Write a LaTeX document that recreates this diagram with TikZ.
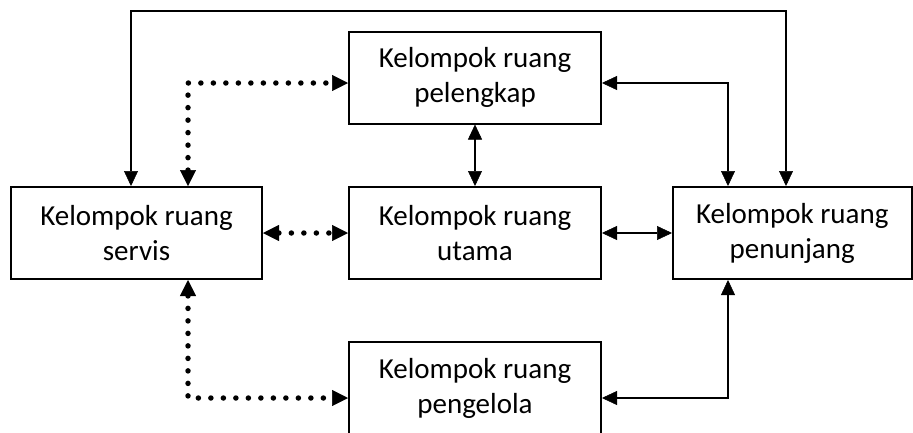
\documentclass[tikz,border=0pt]{standalone}
\usepackage{fontspec}
\setmainfont{Carlito}
\usetikzlibrary{arrows.meta}

\tikzset{
  roombox/.style={draw, line width=2pt, minimum height=92pt, inner sep=0pt,
    align=center, font=\fontsize{29}{35}\selectfont},
  solidlink/.style={line width=2pt, {Triangle[length=15pt,width=14pt,line width=0.5pt]}-{Triangle[length=15pt,width=14pt,line width=0.5pt]}},
  dotlink/.style={line width=5.5pt, line cap=round, dash pattern=on 0pt off 12.5pt,
    {Triangle[length=16pt,width=16pt,line width=0.5pt]}-{Triangle[length=16pt,width=16pt,line width=0.5pt]}},
}

\begin{document}
\begin{tikzpicture}[x=1pt, y=-1pt]
  \useasboundingbox (0,0) rectangle (913,432);
  \clip (0,0) rectangle (913,432);

  % room groups
  \node[roombox, minimum width=252pt] (pelengkap) at (475,77.5) {Kelompok ruang\\pelengkap};
  \node[roombox, minimum width=251pt] (servis)    at (136.5,233) {Kelompok ruang\\servis};
  \node[roombox, minimum width=252pt] (utama)     at (475,233) {Kelompok ruang\\utama};
  \node[roombox, minimum width=238.5pt] (penunjang) at (792.25,233) {Kelompok ruang\\penunjang};
  \node[roombox, minimum width=252pt] (pengelola) at (475,388) {Kelompok ruang\\pengelola};

  % bend points of the routed links
  \coordinate (topL) at (131,11);
  \coordinate (topR) at (786,11);
  \coordinate (plR)  at (728,83);
  \coordinate (plL)  at (188,83);
  \coordinate (pgL)  at (188,398);
  \coordinate (pgR)  at (728,398);

  % solid links
  \draw[solidlink] (topL |- servis.north) -- (topL) -- (topR) -- (topR |- penunjang.north);
  \draw[solidlink] (pelengkap.east |- plR) -- (plR) -- (plR |- penunjang.north);
  \draw[solidlink] (pelengkap.south) -- (utama.north);
  \draw[solidlink] (utama.east) -- (penunjang.west);
  \draw[solidlink] (pengelola.east |- pgR) -- (pgR) -- (pgR |- penunjang.south);

  % dotted links
  \draw[dotlink] (servis.east) -- (utama.west);
  \draw[dotlink] (plL |- servis.north) -- (plL) -- (pelengkap.west |- plL);
  \draw[dotlink] (pgL |- servis.south) -- (pgL) -- (pengelola.west |- pgL);
\end{tikzpicture}
\end{document}
